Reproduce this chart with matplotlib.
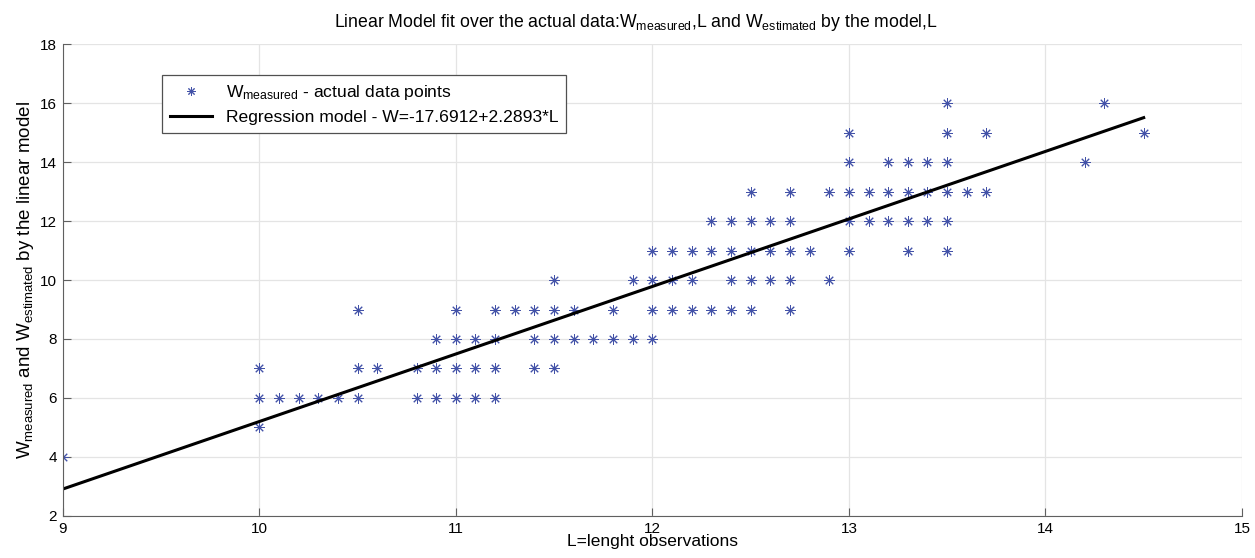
import numpy as np
import matplotlib.pyplot as plt

plt.rcParams['font.family'] = ['Liberation Sans', 'DejaVu Sans']
plt.rcParams['mathtext.fontset'] = 'custom'
plt.rcParams['mathtext.rm'] = 'Liberation Sans'
plt.rcParams['mathtext.it'] = 'Liberation Sans:italic'

# Messwerte: Laenge L und die gemessenen W-Werte je L
L_werte = [9.0, 10.0, 10.1, 10.2, 10.3, 10.4, 10.5, 10.6, 10.8, 10.9,
           11.0, 11.1, 11.2, 11.3, 11.4, 11.5, 11.6, 11.7, 11.8, 11.9,
           12.0, 12.1, 12.2, 12.3, 12.4, 12.5, 12.6, 12.7, 12.8, 12.9,
           13.0, 13.1, 13.2, 13.3, 13.4, 13.5, 13.6, 13.7, 14.2, 14.3, 14.5]
W_werte = [[4], [7, 6, 5], [6], [6], [6], [6], [9, 7, 6], [7], [7, 6], [8, 7, 6],
           [9, 8, 7, 6], [8, 7, 6], [9, 8, 7, 6], [9], [9, 8, 7], [10, 9, 8, 7], [9, 8], [8], [9, 8], [10, 8],
           [11, 10, 9, 8], [11, 10, 9], [11, 10, 9], [12, 11, 9], [12, 11, 10, 9], [13, 12, 11, 10, 9],
           [12, 11, 10], [13, 12, 11, 10, 9], [11], [13, 10],
           [15, 14, 13, 12, 11], [13, 12], [14, 13, 12], [14, 13, 12, 11], [14, 13, 12],
           [16, 15, 14, 13, 12, 11], [13], [15, 13], [14], [16], [15]]

# Regressionsgerade aus der Legende
achsenabschnitt = -17.6912
steigung = 2.2893
L_linie = np.array([9.0, 14.5])

L_punkte = []
W_punkte = []
for l, ws in zip(L_werte, W_werte):
    for w in ws:
        L_punkte.append(l)
        W_punkte.append(w)

fig = plt.figure(figsize=(12.55, 5.58), dpi=100)
ax = fig.add_axes([0.05, 0.0753, 0.9396, 0.8458])

ax.plot(L_punkte, W_punkte, linestyle='none', marker=(8, 2, 0), markersize=7.5,
        markeredgewidth=0.7, color='#4352a8',
        label=r'W$_{\rm measured}$ - actual data points')
ax.plot(L_linie, achsenabschnitt + steigung * L_linie, color='black', linewidth=2.2,
        label='Regression model - W=-17.6912+2.2893*L')

ax.set_xlim(9, 15)
ax.set_ylim(2, 18)
ax.set_xticks(range(9, 16))
ax.set_yticks(range(2, 19, 2))
ax.grid(True, color='#e4e4e4', linewidth=0.9)
ax.set_axisbelow(True)
for s in ['top', 'right']:
    ax.spines[s].set_visible(False)
for s in ['left', 'bottom']:
    ax.spines[s].set_color('#606060')
ax.tick_params(direction='in', length=6, width=0.8, color='#606060', labelsize=11, pad=4)

ax.set_title(r'Linear Model fit over the actual data:W$_{\rm measured}$,L and W$_{\rm estimated}$ by the model,L',
             fontsize=12.7, pad=12, x=0.486)
ax.set_xlabel('L=lenght observations', fontsize=12.5, labelpad=-1)
ax.set_ylabel(r'W$_{\rm measured}$ and W$_{\rm estimated}$ by the linear model', fontsize=13.5, labelpad=3)

leg = ax.legend(loc='upper left', bbox_to_anchor=(0.084, 0.934), borderaxespad=0,
                fontsize=12.6, fancybox=False, edgecolor='#505050', framealpha=1,
                handlelength=2.4, borderpad=0.45, labelspacing=0.45, markerscale=0.8)
leg.get_frame().set_linewidth(0.9)

fig.savefig('out.png', dpi=100)
